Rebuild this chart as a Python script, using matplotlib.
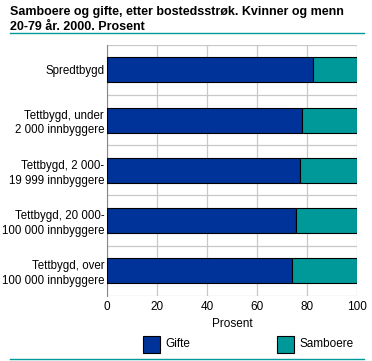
import numpy as np
import matplotlib
matplotlib.use("Agg")
from matplotlib import pyplot as plt
from matplotlib.patches import Rectangle
from matplotlib.lines import Line2D

plt.rcParams['font.family'] = ['Liberation Sans', 'DejaVu Sans']

# Data
categories = ['Spredtbygd', 'Tettbygd, under\n2 000 innbyggere', 'Tettbygd, 2 000-\n19 999 innbyggere',
              'Tettbygd, 20 000-\n100 000 innbyggere', 'Tettbygd, over\n100 000 innbyggere']
gifte = [82.5, 78.1, 77.3, 75.7, 73.9]
samboere = [100 - g for g in gifte]
xticks = [0, 20, 40, 60, 80, 100]
series_names = ['Gifte', 'Samboere']

blue = '#003399'
teal = '#009999'
W, H = 372, 361

fig = plt.figure(figsize=(W / 100, H / 100), dpi=100)
ax = fig.add_axes([107 / W, 1 - 295.8 / H, 250 / W, (295.8 - 44.8) / H])

y = np.arange(len(categories))
ax.barh(y, gifte, height=0.5, color=blue, edgecolor='black', linewidth=0.8, zorder=3)
ax.barh(y, samboere, left=gifte, height=0.5, color=teal, edgecolor='black', linewidth=0.8, zorder=3)

ax.set_xlim(0, 100)
ax.set_ylim(len(categories) - 0.5, -0.5)
ax.set_xticks(xticks)
ax.set_xticklabels([str(t) for t in xticks], fontsize=8.5)
ax.set_yticks(y)
ax.set_yticklabels(categories, fontsize=8.3, linespacing=1.3)
ax.set_yticks(np.arange(len(categories) + 1) - 0.5, minor=True)
ax.tick_params(axis='x', length=0, pad=4)
ax.tick_params(axis='y', length=0, pad=2)
ax.tick_params(axis='y', which='minor', length=0)
ax.xaxis.grid(True, color='#c8c8c8', linewidth=0.9, zorder=0)
ax.yaxis.grid(True, which='minor', color='#c8c8c8', linewidth=0.9, zorder=0)
for s in ['top', 'right', 'bottom']:
    ax.spines[s].set_visible(False)
ax.spines['left'].set_color('#888888')
ax.set_xlabel('Prosent', fontsize=8.5, labelpad=3)

# Title and decorative lines
title_lines = ['Samboere og gifte, etter bostedsstrøk. Kvinner og menn', '20-79 år. 2000. Prosent']
for i, line in enumerate(title_lines):
    fig.text(10 / W, 1 - (12 + 15 * i) / H, line, fontsize=9, fontweight='bold', va='center', ha='left')
fig.add_artist(Line2D([10 / W, 364 / W], [1 - 33 / H, 1 - 33 / H], color=teal, linewidth=1))
fig.add_artist(Line2D([10 / W, 364 / W], [1 - 359 / H, 1 - 359 / H], color=teal, linewidth=1))

# Legend
for name, col, x0 in zip(series_names, [blue, teal], [143, 277]):
    fig.add_artist(Rectangle((x0 / W, 1 - 353 / H), 17 / W, 17 / H, facecolor=col,
                             edgecolor='black', linewidth=0.8, transform=fig.transFigure))
    fig.text((x0 + 22) / W, 1 - 344 / H, name, fontsize=8.5, va='center', ha='left')

fig.savefig('out.png', dpi=100)
